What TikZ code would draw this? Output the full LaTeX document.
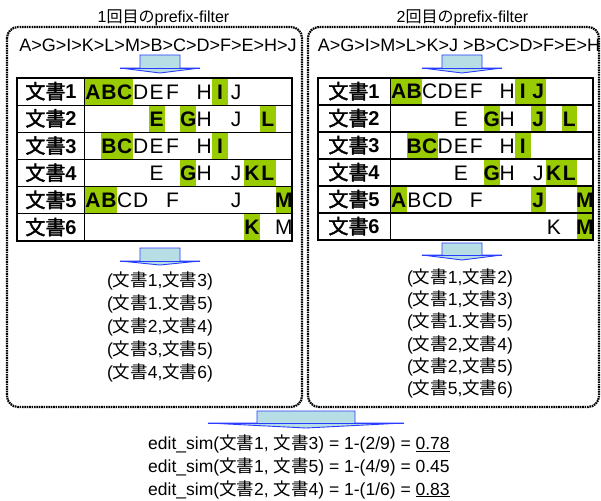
\documentclass[tikz,border=0pt]{standalone}
\usepackage{fontspec}
\setmainfont{Liberation Sans}
\newfontfamily\cjk[AutoFakeBold=2]{Noto Sans CJK JP}
\newcommand\bun{{\cjk 文書}}
\definecolor{hl}{RGB}{153,204,0}
\definecolor{arrfill}{RGB}{183,222,228}
\definecolor{arrline}{RGB}{40,60,255}
\tikzset{
  panel/.style={line width=2.2pt, dash pattern=on 1.6pt off 0.8pt, rounded corners=11pt},
  gridline/.style={line width=1.2pt},
  blockarrow/.style={fill=arrfill, draw=arrline, line width=0.9pt, line join=miter},
  letter/.style={anchor=base, inner sep=0pt, font=\fontsize{21}{24}\selectfont},
  lab/.style={anchor=base, inner sep=0pt, font=\fontsize{20}{24}\selectfont\bfseries},
  titletxt/.style={anchor=base, inner sep=0pt, font=\fontsize{16}{19}\selectfont},
  hdr/.style={anchor=base, inner sep=0pt, font=\fontsize{18}{21}\selectfont},
  pair/.style={anchor=base, inner sep=0pt, font=\fontsize{17.5}{21}\selectfont},
  simtxt/.style={anchor=base west, inner sep=0pt, font=\fontsize{17.5}{21}\selectfont},
}
% #1 x of grid start, #2 column width, #3 row top, #4 row height, #5 name, #6 list
\newcommand\trow[6]{%
  \foreach \cc/\lt/\hh in {#6}{%
    \pgfmathsetmacro\xa{#1+(\cc-1)*#2}%
    \pgfmathsetmacro\xb{#1+\cc*#2}%
    \ifnum\hh=1 \fill[hl] (\xa,#3) rectangle (\xb,#3+#4);\fi
  }%
  \foreach \cc/\lt/\hh in {#6}{%
    \pgfmathsetmacro\xm{#1+(\cc-0.5)*#2}%
    \ifnum\hh=1 \def\ff{\bfseries}\else\def\ff{}\fi
    \node[letter] (#5-\cc) at (\xm,{#3+#4/2+7.5}) {\ff\lt};
  }}
% #1 cx, #2 top, #3 body bottom, #4 tip, #5 body half, #6 head half
\newcommand\downarr[6]{%
  \draw[blockarrow] (#1-#5,#2) -- (#1+#5,#2) -- (#1+#5,#3) -- (#1+#6,#3) -- (#1,#4)
     -- (#1-#6,#3) -- (#1-#5,#3) -- cycle;
  \draw[arrline, line width=0.9pt] (#1-#6,#3) -- (#1+#6,#3);
}
\begin{document}
\begin{tikzpicture}[x=1pt,y=-1pt]
\useasboundingbox (0,0) rectangle (601,500);
% panels
\draw[panel] (7,27) rectangle (302,407);
\draw[panel] (308,27) rectangle (599,407);
% titles and orders
\node[titletxt] (t1) at (163.5,23) {1{\cjk 回目の}prefix-filter};
\node[titletxt] (t2) at (462.5,23) {2{\cjk 回目の}prefix-filter};
\node[hdr] (h1) at (158,52) {A>G>I>K>L>M>B>C>D>F>E>H>J};
\node[hdr] (h2) at (459,52) {A>G>I>M>L>K>J >B>C>D>F>E>H};
% arrows
\downarr{160}{55}{68}{73}{20}{40}
\downarr{462}{55}{68}{73}{20}{40}
\downarr{160}{248}{261}{265}{20}{40}
\downarr{462}{243}{255}{260}{20}{40}
\downarr{306}{411}{423}{428}{49}{98}
% left table
\trow{85}{15.9}{78}{27.17}{La}{1/A/1,2/B/1,3/C/1,4/D/0,5/E/0,6/F/0,8/H/0,9/I/1,10/J/0}
\trow{85}{15.9}{105.17}{27.17}{Lb}{5/E/1,7/G/1,8/H/0,10/J/0,12/L/1}
\trow{85}{15.9}{132.34}{27.17}{Lc}{2/B/1,3/C/1,4/D/0,5/E/0,6/F/0,8/H/0,9/I/1}
\trow{85}{15.9}{159.51}{27.17}{Ld}{5/E/0,7/G/1,8/H/0,10/J/0,11/K/1,12/L/1}
\trow{85}{15.9}{186.68}{27.17}{Le}{1/A/1,2/B/1,3/C/0,4/D/0,6/F/0,10/J/0,13/M/1}
\trow{85}{15.9}{213.85}{27.17}{Lf}{11/K/1,13/M/0}
\foreach \i in {1,...,6} \node[lab] (Llab\i) at (51,{78+27.17*(\i-0.5)+7.2}) {\bun\i};
\draw[gridline] (17,78) rectangle (292,241);
\draw[gridline] (84.5,78) -- (84.5,241);
\foreach \i in {1,...,5} \draw[gridline] (17,{78+27.17*\i}) -- (292,{78+27.17*\i});
% right table
\trow{391}{15.5}{78}{27}{Ra}{1/A/1,2/B/1,3/C/0,4/D/0,5/E/0,6/F/0,8/H/0,9/I/1,10/J/1}
\trow{391}{15.5}{105}{27}{Rb}{5/E/0,7/G/1,8/H/0,10/J/1,12/L/1}
\trow{391}{15.5}{132}{27}{Rc}{2/B/1,3/C/1,4/D/0,5/E/0,6/F/0,8/H/0,9/I/1}
\trow{391}{15.5}{159}{27}{Rd}{5/E/0,7/G/1,8/H/0,10/J/0,11/K/1,12/L/1}
\trow{391}{15.5}{186}{27}{Re}{1/A/1,2/B/0,3/C/0,4/D/0,6/F/0,10/J/1,13/M/1}
\trow{391}{15.5}{213}{27}{Rf}{11/K/0,13/M/1}
\foreach \i in {1,...,6} \node[lab] (Rlab\i) at (354,{78+27*(\i-0.5)+7.2}) {\bun\i};
\draw[gridline] (318,78) rectangle (593,240);
\draw[gridline] (390.5,78) -- (390.5,240);
\foreach \i in {1,...,5} \draw[gridline] (318,{78+27*\i}) -- (593,{78+27*\i});
% candidate pairs
\node[pair] (lp1) at (160,286.7) {(\bun 1,\bun 3)};
\node[pair] (lp2) at (160,309.6) {(\bun 1.\bun 5)};
\node[pair] (lp3) at (160,332.5) {(\bun 2,\bun 4)};
\node[pair] (lp4) at (160,355.4) {(\bun 3,\bun 5)};
\node[pair] (lp5) at (160,378.3) {(\bun 4,\bun 6)};
\node[pair] (rp1) at (460,283.3) {(\bun 1,\bun 2)};
\node[pair] (rp2) at (460,305.6) {(\bun 1,\bun 3)};
\node[pair] (rp3) at (460,327.9) {(\bun 1.\bun 5)};
\node[pair] (rp4) at (460,350.2) {(\bun 2,\bun 4)};
\node[pair] (rp5) at (460,372.5) {(\bun 2,\bun 5)};
\node[pair] (rp6) at (460,394.8) {(\bun 5,\bun 6)};
% similarities
\node[simtxt] (s1) at (148,449.5) {edit\_sim(\bun 1, \bun 3) = 1-(2/9) = \underline{0.78}};
\node[simtxt] (s2) at (148,472.2) {edit\_sim(\bun 1, \bun 5) = 1-(4/9) = 0.45};
\node[simtxt] (s3) at (148,495) {edit\_sim(\bun 2, \bun 4) = 1-(1/6) = \underline{0.83}};
\end{tikzpicture}
\end{document}
